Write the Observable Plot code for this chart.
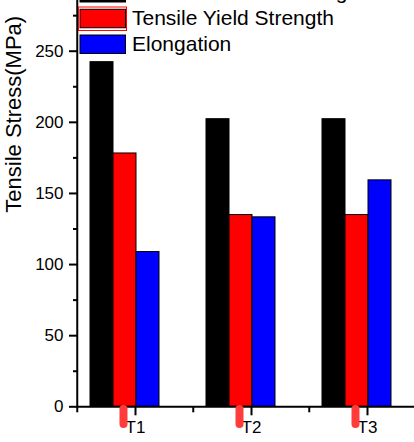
<!DOCTYPE html>
<html>
<head>
<meta charset="utf-8">
<script src="https://cdn.jsdelivr.net/npm/d3@7"></script>
<script src="https://cdn.jsdelivr.net/npm/@observablehq/plot@0.6"></script>
<style>
  html, body { margin: 0; padding: 0; background: #fff; }
  #chart { width: 414px; height: 442px; overflow: hidden; }
</style>
</head>
<body>
<div id="chart"></div>
<script>
// ---- data ----
const categories = ["T1", "T2", "T3"];
const seriesNames = ["Ultimate Tensile Strength", "Tensile Yield Strength", "Elongation"];
const ultimateStrength = [242.3, 202.2, 202.2];
const yieldStrength = [178.1, 134.8, 134.8];
const elongation = [108.8, 133.2, 159.2];
const seriesColors = ["#000000", "#ff0000", "#0000ff"];
const yTicks = [0, 50, 100, 150, 200, 250];
const yMinorTicks = [25, 75, 125, 175, 225, 275];
const yLabel = "Tensile Stress(MPa)";

// ---- layout ----
const W = 414, H = 442;
const marginLeft = 76, marginBottom = 35.7;
const fxRange = [76, 425.5];
const band = (fxRange[1] - fxRange[0]) / categories.length;
const yMax = 285.65;

const seriesValues = [ultimateStrength, yieldStrength, elongation];
const rows = categories.flatMap((c, i) =>
  seriesNames.map((s, j) => ({category: c, series: s, value: seriesValues[j][i]}))
);

const chart = Plot.plot({
  width: W,
  height: H,
  marginLeft,
  marginRight: 0,
  marginTop: 0,
  marginBottom,
  facet: {marginTop: 0, marginRight: 0, marginBottom: 0, marginLeft: 0},
  style: {fontFamily: "'Liberation Sans', Arial, sans-serif", fontSize: "17px", background: "#fff", color: "#000", overflow: "hidden"},
  fx: {domain: categories, range: fxRange, padding: 0, axis: null, label: null},
  x: {domain: seriesNames, paddingInner: 0, paddingOuter: 0.98, align: 0.267, axis: null},
  y: {domain: [0, yMax], axis: null},
  color: {domain: seriesNames, range: seriesColors},
  marks: [
    Plot.barY(rows, {fx: "category", x: "series", y: "value", fill: "series", stroke: "#000", strokeWidth: 1}),
    Plot.ruleY([0], {stroke: "#000", strokeWidth: 2}),
    Plot.ruleX([0], {fx: () => categories[0], x: null, y1: 0, y2: yMax, dx: -band / 2, stroke: "#000", strokeWidth: 2}),
    Plot.axisY({ticks: yTicks, tickSize: 8, tickPadding: 6, strokeWidth: 2, fontSize: 17, label: null}),
    Plot.axisY({ticks: yMinorTicks, tickSize: 4, strokeWidth: 2, tickFormat: () => "", label: null}),
    Plot.axisFx({anchor: "bottom", tickSize: 9, tickPadding: 5, strokeWidth: 2, fontSize: 17, label: null}),
    Plot.axisFx({anchor: "bottom", tickSize: 6, strokeWidth: 2, tickFormat: () => "", label: null, dx: -band / 2}),
    Plot.text([yLabel], {fx: () => categories[0], frameAnchor: "left", rotate: -90, lineAnchor: "bottom", dx: -57, dy: 9, fontSize: 22, fill: "#000"}),
    Plot.ruleX(categories, {fx: d => d, x: () => seriesNames[1], y1: -1.9, y2: -12.4, dx: -1.5, stroke: "#ff3b3b", strokeWidth: 8, strokeLinecap: "round"})
  ]
});

// ---- legend (overlapping the top of the frame, as in the reference) ----
const svg = d3.select(chart);
const lg = svg.append("g")
  .attr("font-family", "'Liberation Sans', Arial, sans-serif")
  .attr("text-anchor", "start");
const rowTop0 = -16.5, rowStep = 25.75;
seriesNames.forEach((s, i) => {
  const top = rowTop0 + i * rowStep;
  if (i === 1) {
    lg.append("rect").attr("x", 78.5).attr("y", top - 2.25).attr("width", 48).attr("height", 23.5)
      .attr("fill", "none").attr("stroke", "#ff0000").attr("stroke-width", 1);
  }
  lg.append("rect").attr("x", 80).attr("y", top).attr("width", 45.5).attr("height", 18.5)
    .attr("fill", seriesColors[i]).attr("stroke", "#000").attr("stroke-width", 1);
  lg.append("text").attr("x", 132).attr("y", top + 15.75).attr("font-size", 21)
    .attr("text-anchor", "start").attr("fill", "#000").text(s);
});

document.getElementById("chart").appendChild(chart);
</script>
</body>
</html>
